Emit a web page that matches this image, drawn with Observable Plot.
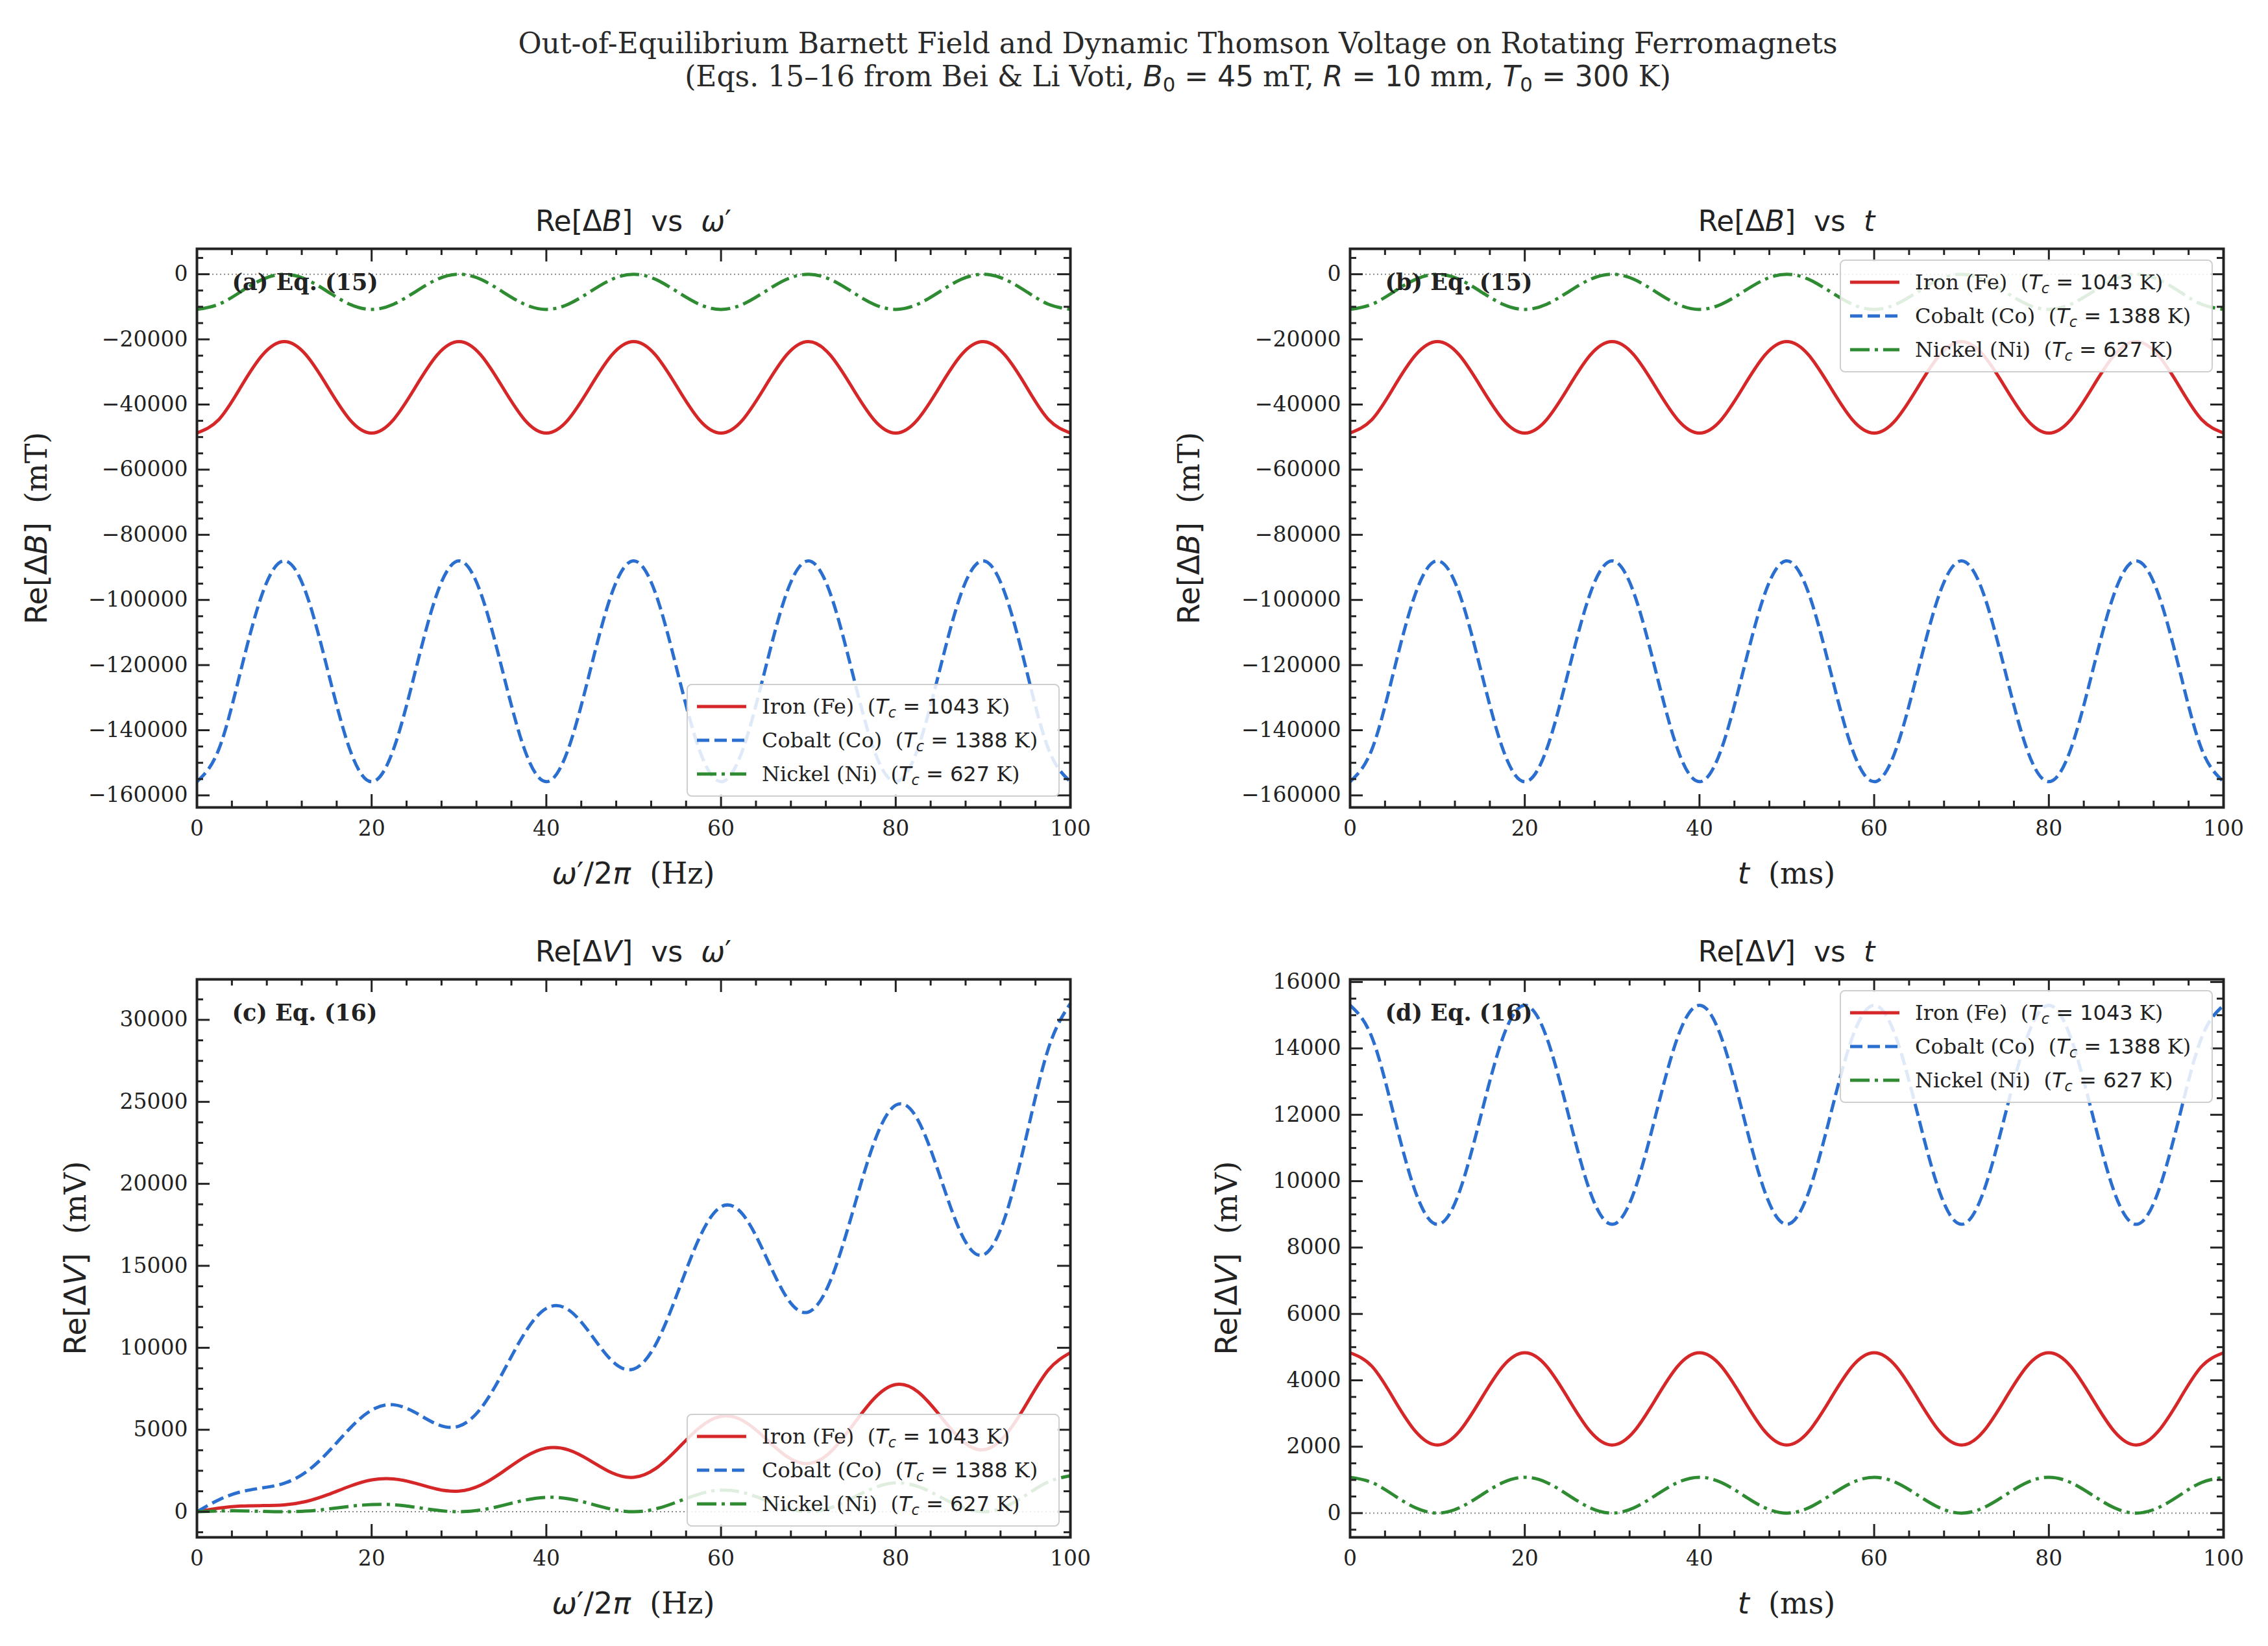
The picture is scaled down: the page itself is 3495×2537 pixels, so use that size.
<!DOCTYPE html>
<html>
<head>
<meta charset="utf-8">
<script src="https://cdn.jsdelivr.net/npm/d3@7"></script>
<script src="https://cdn.jsdelivr.net/npm/@observablehq/plot@0.6"></script>
<style>
  body { margin: 0; background: #fff; }
  #fig { position: relative; width: 3495px; height: 2537px; background: #fff; overflow: hidden;
         font-family: "DejaVu Serif", serif; color: #222; }
  #fig > svg, #fig > div { position: absolute; }
  .sup { left: 315px; width: 3000px; text-align: center; font-size: 44px; line-height: 51px; color: #2a2a2a; }
  .m { font-family: "DejaVu Sans", sans-serif; }
  .ptitle { font-family: "DejaVu Sans", sans-serif; font-size: 44px; line-height: 52px; text-align: center; width: 1346px; color: #222; }
  .xlab { font-size: 46px; line-height: 54px; text-align: center; width: 1346px; color: #222; }
  .ylab { font-size: 46px; line-height: 54px; white-space: nowrap; color: #222; transform: translate(-50%, -50%) rotate(-90deg); }
  .legend { width: 575px; height: 174px; box-sizing: border-box; border: 2px solid #cfcfcf; border-radius: 8px;
            background: rgba(255,255,255,0.85); padding: 7px 0 0 14px; font-size: 32px; color: #222; }
  .row { height: 52px; display: flex; align-items: center; white-space: nowrap; }
  .row svg { width: 76px; height: 20px; margin-right: 24px; flex: none; }
  sub { font-size: 0.7em; vertical-align: -0.25em; line-height: 0; }
</style>
</head>
<body>
<div id="fig"></div>
<script>
// ---------------- data ----------------
const freqHz = [0,2.5,5,7.5,10,12.5,15,17.5,20,22.5,25,27.5,30,32.5,35,37.5,40,42.5,45,47.5,50,52.5,55,57.5,60,62.5,65,67.5,70,72.5,75,77.5,80,82.5,85,87.5,90,92.5,95,97.5,100];
const timeMs = [0,2.5,5,7.5,10,12.5,15,17.5,20,22.5,25,27.5,30,32.5,35,37.5,40,42.5,45,47.5,50,52.5,55,57.5,60,62.5,65,67.5,70,72.5,75,77.5,80,82.5,85,87.5,90,92.5,95,97.5,100];

// Re[ΔB] (mT) — panels (a) and (b) show identical curves
const reB_Fe = [-48750,-44640,-34730,-24810,-20700,-24810,-34730,-44640,
                -48750,-44640,-34730,-24810,-20700,-24810,-34730,-44640,
                -48750,-44640,-34730,-24810,-20700,-24810,-34730,-44640,
                -48750,-44640,-34730,-24810,-20700,-24810,-34730,-44640,
                -48750,-44640,-34730,-24810,-20700,-24810,-34730,-44640,-48750];
const reB_Co = [-155800,-145870,-121900,-97930,-88000,-97930,-121900,-145870,
                -155800,-145870,-121900,-97930,-88000,-97930,-121900,-145870,
                -155800,-145870,-121900,-97930,-88000,-97930,-121900,-145870,
                -155800,-145870,-121900,-97930,-88000,-97930,-121900,-145870,
                -155800,-145870,-121900,-97930,-88000,-97930,-121900,-145870,-155800];
const reB_Ni = [-10800,-9220,-5400,-1580,0,-1580,-5400,-9220,
                -10800,-9220,-5400,-1580,0,-1580,-5400,-9220,
                -10800,-9220,-5400,-1580,0,-1580,-5400,-9220,
                -10800,-9220,-5400,-1580,0,-1580,-5400,-9220,
                -10800,-9220,-5400,-1580,0,-1580,-5400,-9220,-10800];

// Re[ΔV] (mV) vs ω'/2π — panel (c)
const reVw_Fe = [0,222,348,375,420,626,1043,1556,1940,2000,1738,1377,1260,1627,2433,3334,3880,3778,3128,2378,2100,2628,3823,5112,5820,5556,4518,3379,2940,3629,5213,6890,7760,7334,5908,4380,3780,4630,6603,8668,9700];
const reVw_Co = [0,725,1210,1454,1740,2424,3630,5077,6200,6527,6050,5332,5220,6302,8470,10879,12400,12329,10890,9210,8700,10180,13310,16681,18600,18131,15730,13088,12180,14058,18150,22483,24800,23933,20570,16966,15660,17936,22990,28285,31000];
const reVw_Ni = [0,47,55,24,0,40,165,329,440,423,275,89,0,105,385,704,880,798,495,153,0,169,605,1080,1320,1174,715,217,0,233,825,1455,1760,1549,935,282,0,298,1045,1831,2200];

// Re[ΔV] (mV) vs t — panel (d)
const reVt_Fe = [4830,4423,3440,2457,2050,2457,3440,4423,
                 4830,4423,3440,2457,2050,2457,3440,4423,
                 4830,4423,3440,2457,2050,2457,3440,4423,
                 4830,4423,3440,2457,2050,2457,3440,4423,
                 4830,4423,3440,2457,2050,2457,3440,4423,4830];
const reVt_Co = [15300,14333,12000,9667,8700,9667,12000,14333,
                 15300,14333,12000,9667,8700,9667,12000,14333,
                 15300,14333,12000,9667,8700,9667,12000,14333,
                 15300,14333,12000,9667,8700,9667,12000,14333,
                 15300,14333,12000,9667,8700,9667,12000,14333,15300];
const reVt_Ni = [1080,922,540,158,0,158,540,922,
                 1080,922,540,158,0,158,540,922,
                 1080,922,540,158,0,158,540,922,
                 1080,922,540,158,0,158,540,922,
                 1080,922,540,158,0,158,540,922,1080];

// tick labels
const xTicks = [0, 20, 40, 60, 80, 100];
const yTicksB = [0, -20000, -40000, -60000, -80000, -100000, -120000, -140000, -160000];
const yTicksVw = [0, 5000, 10000, 15000, 20000, 25000, 30000];
const yTicksVt = [0, 2000, 4000, 6000, 8000, 10000, 12000, 14000, 16000];

const materials = ["Iron (Fe)", "Cobalt (Co)", "Nickel (Ni)"];
const curieK = [1043, 1388, 627];

// ---------------- styles ----------------
const colors = ["#d62728", "#2a6fcf", "#2e8b32"];
const dashes = [null, "19,8", "30,8,5,8"];

const fig = document.getElementById("fig");
const fmt = d => d < 0 ? "\u2212" + Math.abs(d) : String(d);

function panel(o) {
  const marginLeft = o.fx0 - o.left, marginTop = o.fy0 - o.top, marginRight = 40, marginBottom = 70;
  const width = o.fx1 + marginRight - o.left, height = o.fy1 + marginBottom - o.top;
  const fw = o.fx1 - o.fx0, fh = o.fy1 - o.fy0;
  const [y0, y1] = o.yDomain;
  const xMinor = d3.range(0, 101, 4).filter(v => v % 20 !== 0);
  const yMinor = d3.range(Math.ceil(y0 / o.yMinorStep) * o.yMinorStep, y1, o.yMinorStep)
                   .filter(v => !o.yTicks.includes(v) && v >= y0 && v <= y1);
  const tickStyle = {stroke: "#222", strokeWidth: 3};
  const marks = [
    Plot.ruleY([0], {stroke: "#8a8a8a", strokeWidth: 2, strokeDasharray: "2,4"}),
    ...o.series.map((vals, k) => Plot.line(o.x.map((xv, i) => ({x: xv, y: vals[i]})), {
      x: "x", y: "y", stroke: colors[k], strokeWidth: 5, strokeDasharray: dashes[k],
      curve: "natural", strokeLinecap: "butt", strokeLinejoin: "round"
    })),
    Plot.text([o.tag], {text: d => d, frameAnchor: "top-left", dx: 54, dy: 52, textAnchor: "start",
      lineAnchor: "middle", fontWeight: "bold", fontSize: 35, fill: "#222"}),
    Plot.tickX(xTicks, {x: d => d, insetTop: fh - 20, ...tickStyle}),
    Plot.tickX(xTicks, {x: d => d, insetBottom: fh - 20, ...tickStyle}),
    Plot.tickX(xMinor, {x: d => d, insetTop: fh - 10, ...tickStyle}),
    Plot.tickX(xMinor, {x: d => d, insetBottom: fh - 10, ...tickStyle}),
    Plot.tickY(o.yTicks, {y: d => d, insetRight: fw - 20, ...tickStyle}),
    Plot.tickY(o.yTicks, {y: d => d, insetLeft: fw - 20, ...tickStyle}),
    Plot.tickY(yMinor, {y: d => d, insetRight: fw - 10, ...tickStyle}),
    Plot.tickY(yMinor, {y: d => d, insetLeft: fw - 10, ...tickStyle}),
    Plot.frame({stroke: "#222", strokeWidth: 4})
  ];
  const svg = Plot.plot({
    width, height, marginLeft, marginTop, marginRight, marginBottom,
    x: {domain: [0, 100], ticks: xTicks, tickSize: 0, tickPadding: 20, tickFormat: d => String(d), label: null},
    y: {domain: o.yDomain, ticks: o.yTicks, tickSize: 0, tickPadding: 14, tickFormat: fmt, label: null},
    style: {fontFamily: '"DejaVu Serif", serif', fontSize: "33px", color: "#222", background: "transparent", overflow: "visible"},
    marks
  });
  svg.style.left = o.left + "px";
  svg.style.top = o.top + "px";
  fig.appendChild(svg);

  const add = (cls, html, css) => {
    const d = document.createElement("div");
    d.className = cls; d.innerHTML = html;
    Object.assign(d.style, css);
    fig.appendChild(d);
    return d;
  };
  add("ptitle", o.title, {left: o.fx0 + "px", top: (o.fy0 - 42 - 26) + "px"});
  add("xlab", o.xlabel, {left: o.fx0 + "px", top: (o.fy1 + 75) + "px"});
  add("ylab", o.ylabel, {left: o.ylabX + "px", top: ((o.fy0 + o.fy1) / 2) + "px"});

  const rows = materials.map((m, k) =>
    `<div class="row"><svg viewBox="0 0 76 20"><line x1="0" y1="10" x2="76" y2="10" stroke="${colors[k]}" stroke-width="5"${dashes[k] ? ` stroke-dasharray="${dashes[k]}"` : ""}/></svg>` +
    `<span>${m}&nbsp;&nbsp;(<span class="m"><i>T</i><sub><i>c</i></sub> = ${curieK[k]}</span> K)</span></div>`
  ).join("");
  const lg = {left: (o.fx1 - 16 - 575) + "px"};
  if (o.legendTop) lg.top = (o.fy0 + 17) + "px"; else lg.top = (o.fy1 - 16 - 174) + "px";
  add("legend", rows, lg);
}

// suptitle
const s1 = document.createElement("div");
s1.className = "sup"; s1.style.top = "41px";
s1.innerHTML = "Out-of-Equilibrium Barnett Field and Dynamic Thomson Voltage on Rotating Ferromagnets";
fig.appendChild(s1);
const s2 = document.createElement("div");
s2.className = "sup"; s2.style.top = "92px";
s2.innerHTML = '(Eqs. 15–16 from Bei &amp; Li Voti, <span class="m"><i>B</i><sub>0</sub> = 45</span> mT, <span class="m"><i>R</i> = 10</span> mm, <span class="m"><i>T</i><sub>0</sub> = 300</span> K)';
fig.appendChild(s2);

const titleB = w => `Re[Δ<i>B</i>]&nbsp;&nbsp;vs&nbsp;&nbsp;${w}`;
const titleV = w => `Re[Δ<i>V</i>]&nbsp;&nbsp;vs&nbsp;&nbsp;${w}`;
const xlabW = '<span class="m"><i>ω</i>′/2<i>π</i></span>&nbsp;&nbsp;(Hz)';
const xlabT = '<span class="m"><i>t</i></span>&nbsp;&nbsp;(ms)';
const ylabB = '<span class="m">Re[Δ<i>B</i>]</span>&nbsp;&nbsp;(mT)';
const ylabV = '<span class="m">Re[Δ<i>V</i>]</span>&nbsp;&nbsp;(mV)';

panel({left: 0, top: 360, fx0: 303, fx1: 1649, fy0: 383, fy1: 1244, x: freqHz,
  series: [reB_Fe, reB_Co, reB_Ni], yDomain: [-163700, 7800], yTicks: yTicksB, yMinorStep: 5000,
  tag: "(a) Eq. (15)", title: titleB("<i>ω</i>′"), xlabel: xlabW, ylabel: ylabB, ylabX: 56, legendTop: false});
panel({left: 1760, top: 360, fx0: 2080, fx1: 3426, fy0: 383, fy1: 1244, x: timeMs,
  series: [reB_Fe, reB_Co, reB_Ni], yDomain: [-163700, 7800], yTicks: yTicksB, yMinorStep: 5000,
  tag: "(b) Eq. (15)", title: titleB("<i>t</i>"), xlabel: xlabT, ylabel: ylabB, ylabX: 1832, legendTop: true});
panel({left: 0, top: 1486, fx0: 303, fx1: 1649, fy0: 1509, fy1: 2369, x: freqHz,
  series: [reVw_Fe, reVw_Co, reVw_Ni], yDomain: [-1560, 32470], yTicks: yTicksVw, yMinorStep: 1250,
  tag: "(c) Eq. (16)", title: titleV("<i>ω</i>′"), xlabel: xlabW, ylabel: ylabV, ylabX: 116, legendTop: false});
panel({left: 1760, top: 1486, fx0: 2080, fx1: 3426, fy0: 1509, fy1: 2369, x: timeMs,
  series: [reVt_Fe, reVt_Co, reVt_Ni], yDomain: [-730, 16080], yTicks: yTicksVt, yMinorStep: 500,
  tag: "(d) Eq. (16)", title: titleV("<i>t</i>"), xlabel: xlabT, ylabel: ylabV, ylabX: 1890, legendTop: true});
</script>
</body>
</html>
